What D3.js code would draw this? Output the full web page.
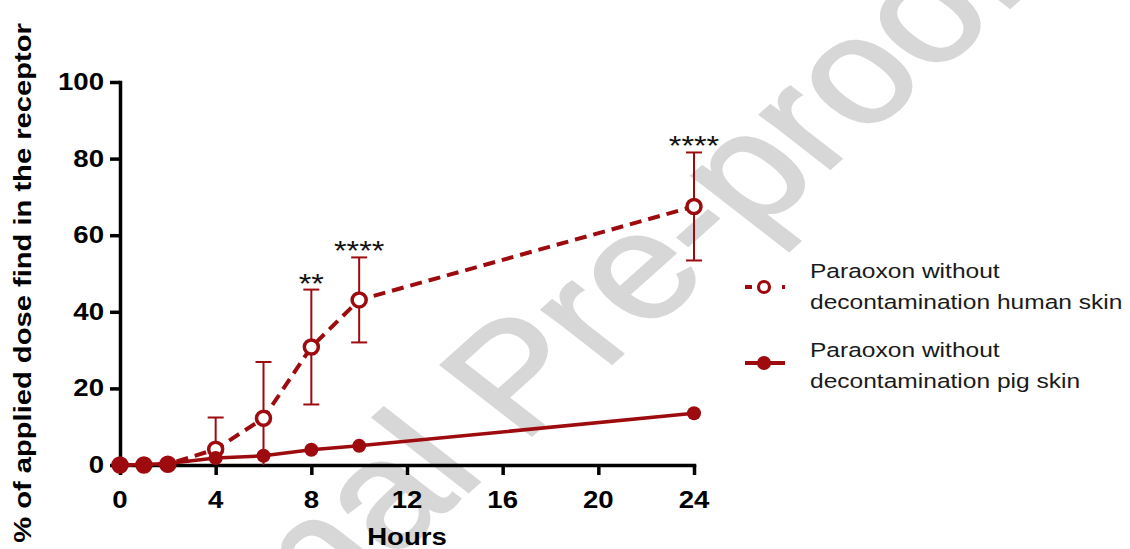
<!DOCTYPE html>
<html><head><meta charset="utf-8">
<script src="https://cdn.jsdelivr.net/npm/d3@7"></script>
<style>body{margin:0;background:#fff;} svg{display:block;}</style>
</head><body><svg id="chart" width="1130" height="549"></svg>
<script>
// ---------- data ----------
const hours = [0, 1, 2, 4, 6, 8, 10, 24];
const humanMean = [0, 0, 0.2, 4.1, 12.2, 30.8, 43.1, 67.5];
const humanSD   = [0, 0, 0, 8.3, 14.7, 15.0, 11.1, 14.1];
const pigMean   = [0, 0.1, 0.4, 1.8, 2.4, 4.0, 5.0, 13.5];
const starHours  = [8, 10, 24];
const starLabels = ["**", "****", "****"];
const xTicks = [0, 4, 8, 12, 16, 20, 24];
const yTicks = [0, 20, 40, 60, 80, 100];
const seriesLabels = [
  ["Paraoxon without", "decontamination human skin"],
  ["Paraoxon without", "decontamination pig skin"]
];
const xTitle = "Hours";
const yTitle = "% of applied dose find in the receptor";
const watermark = "Journal Pre-proof";

// ---------- setup ----------
const svg = d3.select("#chart");
const x = d3.scaleLinear().domain([0, 24]).range([120, 694]);
const y = d3.scaleLinear().domain([0, 100]).range([465, 82]);
const RED = "#9e0b0f";
const FONT = "'Liberation Sans', Arial, Helvetica, sans-serif";
const SX = 1.2;

// ---------- watermark ----------
const WM_SIZE = 150;
const wm = svg.append("g").attr("transform", `scale(${SX},1) translate(${392 / SX},560) rotate(-47)`);
const tmp = wm.append("text").attr("font-size", WM_SIZE).attr("font-family", FONT);
const wJa = tmp.text("Journa").node().getComputedTextLength();
const wa = tmp.text("a").node().getComputedTextLength();
tmp.remove();
wm.append("text")
  .attr("x", -(wJa - wa)).attr("y", 0)
  .attr("font-size", WM_SIZE).attr("font-family", FONT)
  .attr("fill", "#d7d7d7").attr("stroke", "#d7d7d7").attr("stroke-width", 2.5)
  .text(watermark);

// ---------- axes ----------
const yAxis = d3.axisLeft(y).tickValues(yTicks).tickSize(10).tickSizeOuter(0).tickFormat("");
const xAxis = d3.axisBottom(x).tickValues(xTicks).tickSize(10).tickSizeOuter(0).tickFormat("");
svg.append("g").attr("transform", `translate(${x(0)},0)`).call(yAxis)
  .call(g => g.selectAll("path,line").attr("stroke", "#000").attr("stroke-width", 3.5))
  .call(g => g.select("path").attr("stroke-linecap", "square"));
svg.append("g").attr("transform", `translate(0,${y(0)})`).call(xAxis)
  .call(g => g.selectAll("path,line").attr("stroke", "#000").attr("stroke-width", 3.5))
  .call(g => g.select("path").attr("stroke-linecap", "square"));

// tick labels
svg.append("g").selectAll("text").data(xTicks).join("text")
  .attr("transform", d => `translate(${x(d)},508) scale(${SX},1)`)
  .attr("text-anchor", "middle").attr("font-family", FONT)
  .attr("font-weight", "bold").attr("font-size", 23).attr("fill", "#000")
  .text(d => d);
svg.append("g").selectAll("text").data(yTicks).join("text")
  .attr("transform", d => `translate(104,${y(d) + 8}) scale(${SX},1)`)
  .attr("text-anchor", "end").attr("font-family", FONT)
  .attr("font-weight", "bold").attr("font-size", 23).attr("fill", "#000")
  .text(d => d);

// axis titles
svg.append("text")
  .attr("transform", `translate(${(x(0) + x(24)) / 2},545) scale(${SX},1)`)
  .attr("text-anchor", "middle").attr("font-family", FONT)
  .attr("font-weight", "bold").attr("font-size", 23).text(xTitle);
svg.append("text")
  .attr("transform", `translate(31,283) rotate(-90) scale(1.19,1)`)
  .attr("text-anchor", "middle").attr("font-family", FONT)
  .attr("font-weight", "bold").attr("font-size", 24.5).text(yTitle);

// ---------- human series ----------
const human = hours.map((h, i) => ({h, m: humanMean[i], sd: humanSD[i]}));
const pig = hours.map((h, i) => ({h, m: pigMean[i]}));

const eb = svg.append("g").attr("stroke", RED).attr("stroke-width", 2);
human.filter(d => d.sd > 0).forEach(d => {
  const hi = d.m + d.sd, lo = Math.max(0, d.m - d.sd);
  eb.append("line").attr("x1", x(d.h)).attr("x2", x(d.h)).attr("y1", y(lo)).attr("y2", y(hi));
  eb.append("line").attr("x1", x(d.h) - 8).attr("x2", x(d.h) + 8).attr("y1", y(hi)).attr("y2", y(hi));
  if (d.m - d.sd >= 0)
    eb.append("line").attr("x1", x(d.h) - 8).attr("x2", x(d.h) + 8).attr("y1", y(lo)).attr("y2", y(lo));
});

const line = d3.line().x(d => x(d.h)).y(d => y(d.m));
svg.append("path").datum(human).attr("d", line)
  .attr("fill", "none").attr("stroke", RED).attr("stroke-width", 4)
  .attr("stroke-dasharray", "12,7");
svg.append("g").selectAll("circle").data(human).join("circle")
  .attr("cx", d => x(d.h)).attr("cy", d => y(d.m)).attr("r", 7)
  .attr("fill", "#fff").attr("stroke", RED).attr("stroke-width", 3.5);

// stars
svg.append("g").selectAll("text").data(starHours).join("text")
  .attr("transform", (h, i) => {
    const idx = hours.indexOf(h);
    return `translate(${x(h)},${y(humanMean[idx] + humanSD[idx]) + 3}) scale(${SX},1)`;
  })
  .attr("text-anchor", "middle").attr("font-family", FONT)
  .attr("font-size", 27).attr("fill", "#111")
  .text((h, i) => starLabels[i]);

// ---------- pig series ----------
svg.append("path").datum(pig).attr("d", line)
  .attr("fill", "none").attr("stroke", RED).attr("stroke-width", 3.5);
svg.append("g").selectAll("circle").data(pig).join("circle")
  .attr("cx", d => x(d.h)).attr("cy", d => y(d.m)).attr("r", 7)
  .attr("fill", RED);

// ---------- legend ----------
const legTop = [278, 357];
const lg = svg.append("g");
seriesLabels.forEach((lines, i) => {
  const g = lg.append("g").attr("transform", `translate(0,${legTop[i]})`);
  lines.forEach((t, j) => {
    g.append("text")
      .attr("transform", `translate(810,${j * 31}) scale(1.21,1)`)
      .attr("font-family", FONT).attr("font-size", 20.3).attr("fill", "#1a1a1a")
      .text(t);
  });
  const my = i === 0 ? 9 : 6;
  if (i === 0) {
    g.append("line").attr("x1", 745).attr("x2", 785).attr("y1", my).attr("y2", my)
      .attr("stroke", RED).attr("stroke-width", 4).attr("stroke-dasharray", "7,30,4,50");
    g.append("circle").attr("cx", 764).attr("cy", my).attr("r", 5.5)
      .attr("fill", "#fff").attr("stroke", RED).attr("stroke-width", 3.2);
  } else {
    g.append("line").attr("x1", 745).attr("x2", 785).attr("y1", my).attr("y2", my)
      .attr("stroke", RED).attr("stroke-width", 4);
    g.append("circle").attr("cx", 764).attr("cy", my).attr("r", 7).attr("fill", RED);
  }
});
</script></body></html>
